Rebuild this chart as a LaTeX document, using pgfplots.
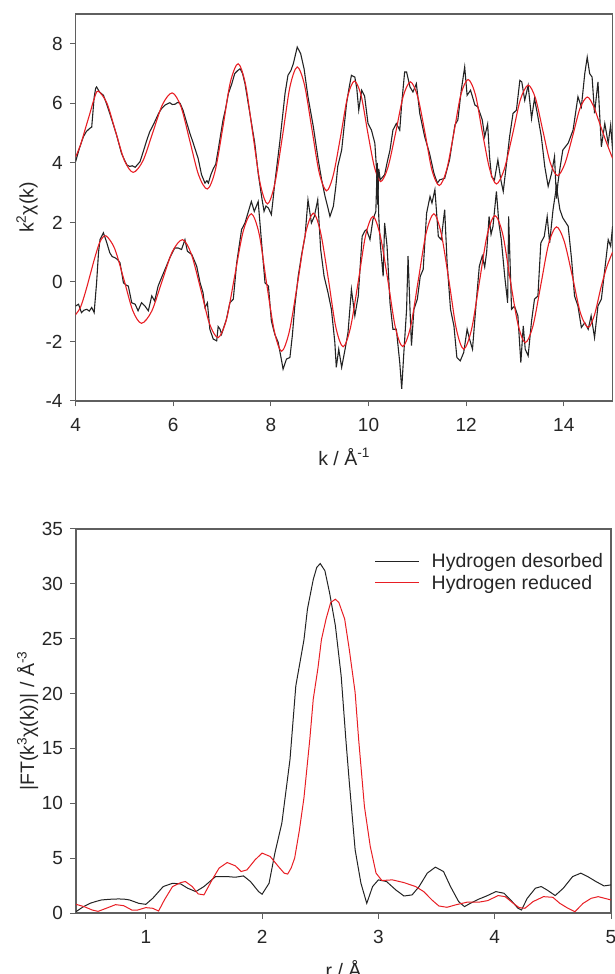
\documentclass[border=0pt]{standalone}
\usepackage{fontspec}
\setmainfont{Liberation Sans}
\usepackage{pgfplots}
\pgfplotsset{compat=1.18}

\definecolor{fitred}{RGB}{232,30,36}
\definecolor{datablack}{RGB}{35,35,35}
\definecolor{axisgray}{RGB}{95,95,95}

\pgfplotsset{
  myaxis/.style={
    scale only axis,
    axis line style={axisgray, line width=1.2pt},
    tick style={axisgray, line width=1pt},
    tick align=outside,
    major tick length=5.5pt,
    tick pos=left,
    ticklabel style={font=\fontsize{19}{22}\selectfont, color=black!85},
    xticklabel style={yshift=-8pt},
    yticklabel style={xshift=-4pt},
    /pgf/number format/assume math mode=true,
    every axis y label/.style={at={(axis description cs:-0.0905,0.5)}, rotate=90, anchor=center,
      font=\fontsize{19.5}{23}\selectfont, color=black!85},
    every axis x label/.style={at={(axis description cs:0.5,-0.145)}, anchor=center,
      font=\fontsize{19.5}{23}\selectfont, color=black!85},
  },
  dataline/.style={datablack, line width=1.1pt},
  fitline/.style={fitred, line width=1.1pt},
}

\begin{document}
\begin{tikzpicture}[x=1pt,y=1pt]
% ---------------- top panel ----------------
\begin{axis}[myaxis, at={(75.6pt,573pt)}, anchor=south west,
  width=537pt, height=387pt,
  xmin=4, xmax=15, ymin=-4, ymax=9,
  xtick={4,6,8,10,12,14}, ytick={-4,-2,0,2,4,6,8},
  xlabel={k / Å\textsuperscript{-1}},
  ylabel={k\textsuperscript{2}χ(k)}]
% upper experimental
\addplot[dataline] coordinates {
(4.00,4.04)(4.08,4.5)(4.16,4.88)(4.22,5.05)(4.29,5.16)(4.33,5.2)(4.38,6.2)(4.41,6.5)(4.43,6.55)(4.49,6.38)
(4.57,6.27)(4.63,6.0)(4.70,5.66)(4.77,5.3)(4.84,4.93)(4.94,4.32)(5.00,4.1)(5.05,3.93)(5.11,3.88)(5.16,3.9)
(5.22,3.85)(5.32,4.04)(5.39,4.4)(5.46,4.77)(5.52,5.05)(5.59,5.27)(5.70,5.66)(5.76,5.82)(5.83,5.94)(5.93,6.02)
(5.98,5.96)(6.04,5.97)(6.09,6.03)(6.14,6.0)(6.20,5.77)(6.27,5.38)(6.34,5.0)(6.41,4.66)(6.51,4.15)(6.58,3.6)
(6.65,3.32)(6.69,3.4)(6.72,3.32)(6.77,3.6)(6.82,3.8)(6.87,3.95)(6.92,4.43)(7.02,5.44)(7.07,5.8)(7.13,6.33)
(7.20,6.66)(7.26,7.0)(7.32,7.1)(7.37,7.16)(7.42,7.0)(7.47,6.66)(7.57,5.66)(7.67,4.66)(7.74,3.65)(7.81,2.87)
(7.86,2.37)(7.90,2.55)(7.95,2.48)(8.01,2.26)(8.04,2.7)(8.08,3.32)(8.18,4.66)(8.29,6.33)(8.35,6.94)(8.41,7.1)
(8.46,7.33)(8.54,7.89)(8.61,7.67)(8.68,7.16)(8.76,6.22)(8.87,5.21)(8.97,4.1)(9.04,3.43)(9.11,2.87)(9.17,2.48)
(9.21,2.2)(9.28,2.54)(9.33,3.2)(9.37,3.88)(9.45,4.43)(9.55,5.99)(9.60,6.5)(9.65,6.94)(9.72,6.88)(9.76,6.5)
(9.80,5.77)(9.86,6.44)(9.92,6.24)(9.99,5.32)(10.06,5.1)(10.13,4.66)(10.16,3.9)(10.19,2.6)(10.21,3.8)(10.24,3.43)
(10.33,3.6)(10.38,4.0)(10.44,4.43)(10.50,5.1)(10.57,5.32)(10.64,5.1)(10.68,5.99)(10.74,7.05)(10.78,7.05)(10.85,6.55)
(10.91,6.38)(10.98,6.66)(11.05,5.66)(11.15,4.88)(11.25,4.32)(11.34,3.65)(11.41,3.32)(11.46,3.43)(11.56,3.48)(11.66,4.1)
(11.77,5.27)(11.83,5.44)(11.90,6.44)(11.97,7.22)(12.02,6.27)(12.09,6.44)(12.18,5.94)(12.24,5.88)(12.33,5.44)(12.38,4.88)
(12.44,5.3)(12.48,4.2)(12.52,3.54)(12.58,3.43)(12.65,4.1)(12.71,3.43)(12.76,3.04)(12.82,3.88)(12.89,4.88)(12.96,5.66)
(13.03,5.77)(13.10,6.77)(13.14,6.72)(13.20,6.1)(13.27,6.6)(13.34,5.49)(13.40,6.16)(13.47,5.55)(13.54,4.88)(13.61,3.88)
(13.68,3.21)(13.75,3.65)(13.81,4.21)(13.85,2.8)(13.88,3.32)(13.92,3.8)(13.98,4.43)(14.09,4.66)(14.19,5.1)(14.29,6.22)
(14.36,5.88)(14.43,7.0)(14.48,7.55)(14.53,7.0)(14.58,6.88)(14.63,5.66)(14.70,6.72)(14.77,4.54)(14.84,5.32)(14.91,4.66)
(14.96,5.27)(15.00,4.43)
};
% upper fit
\addplot[fitline, smooth] coordinates {
(4.0,4.2)(4.1,4.6)(4.2,5.15)(4.3,5.7)(4.38,6.15)(4.46,6.41)(4.64,6.01)(4.82,5.045)(5.0,4.08)(5.18,3.68)
(5.38,4.07)(5.58,5.015)(5.78,5.96)(5.98,6.35)(6.16,5.88)(6.34,4.735)(6.52,3.59)(6.70,3.12)(6.86,3.74)(7.02,5.225)
(7.17,6.71)(7.33,7.33)(7.48,6.64)(7.63,4.975)(7.78,3.31)(7.93,2.62)(8.08,3.29)(8.24,4.92)(8.39,6.55)(8.54,7.22)
(8.69,6.61)(8.84,5.14)(8.99,3.67)(9.14,3.06)(9.28,3.60)(9.43,4.905)(9.57,6.21)(9.71,6.75)(9.85,6.255)(9.98,5.06)
(10.12,3.865)(10.25,3.37)(10.40,3.86)(10.56,5.045)(10.71,6.23)(10.86,6.72)(11.01,6.21)(11.16,4.98)(11.30,3.75)(11.45,3.24)
(11.60,3.76)(11.75,5.02)(11.89,6.28)(12.04,6.80)(12.19,6.29)(12.33,5.045)(12.48,3.80)(12.62,3.29)(12.78,3.78)(12.95,4.95)
(13.11,6.12)(13.27,6.61)(13.42,6.17)(13.57,5.09)(13.72,4.02)(13.87,3.57)(14.02,3.96)(14.18,4.89)(14.33,5.82)(14.48,6.21)
(14.61,5.9)(14.74,5.3)(14.87,4.7)(15.0,4.15)
};
% lower experimental
\addplot[dataline] coordinates {
(4.00,-0.81)(4.06,-0.75)(4.12,-1.03)(4.17,-0.95)(4.23,-0.92)(4.28,-0.98)(4.33,-0.86)(4.38,-1.03)(4.43,-0.03)(4.47,1.0)
(4.50,1.42)(4.57,1.65)(4.64,1.31)(4.70,0.98)(4.75,0.85)(4.81,0.81)(4.86,0.75)(4.91,0.64)(4.98,-0.03)(5.03,-0.1)
(5.08,-0.14)(5.15,-0.7)(5.22,-0.75)(5.28,-0.97)(5.35,-0.7)(5.42,-0.81)(5.49,-0.97)(5.56,-0.47)(5.62,-0.64)(5.69,-0.14)
(5.76,0.14)(5.86,0.53)(5.93,0.81)(6.03,1.14)(6.10,1.14)(6.17,1.09)(6.24,1.42)(6.29,1.03)(6.38,0.92)(6.48,0.53)
(6.55,-0.03)(6.61,-0.36)(6.65,-0.86)(6.70,-0.7)(6.75,-1.59)(6.82,-1.92)(6.89,-1.98)(6.92,-1.5)(6.96,-1.59)(6.99,-1.76)
(7.04,-1.5)(7.09,-1.25)(7.16,-0.7)(7.23,-0.58)(7.30,0.64)(7.33,0.98)(7.40,1.76)(7.47,1.98)(7.54,2.37)(7.60,2.7)
(7.66,2.37)(7.74,2.7)(7.81,1.31)(7.88,-0.03)(7.95,-0.14)(8.01,-1.31)(8.08,-1.76)(8.15,-2.03)(8.22,-2.65)(8.25,-2.93)
(8.32,-2.59)(8.39,-2.54)(8.44,-1.8)(8.49,-0.81)(8.56,0.19)(8.63,0.92)(8.70,1.53)(8.76,2.76)(8.83,1.98)(8.89,2.2)
(8.96,2.76)(9.02,1.09)(9.09,0.19)(9.17,-0.36)(9.24,-0.92)(9.31,-2.03)(9.34,-2.87)(9.39,-2.26)(9.45,-2.87)(9.52,-2.26)
(9.58,-1.7)(9.65,-0.25)(9.72,-1.14)(9.79,-0.47)(9.87,1.53)(9.92,1.7)(9.96,1.76)(10.03,1.42)(10.09,2.09)(10.15,2.37)
(10.18,4.0)(10.21,2.2)(10.24,1.31)(10.30,0.19)(10.33,1.98)(10.38,1.2)(10.44,-0.7)(10.50,-1.59)(10.57,-1.59)(10.64,-2.71)
(10.68,-3.59)(10.72,-2.48)(10.78,-0.92)(10.81,0.87)(10.85,-0.92)(10.88,-2.14)(10.93,-0.92)(11.00,-0.58)(11.06,0.19)(11.12,0.42)
(11.19,2.31)(11.26,2.87)(11.30,2.65)(11.36,3.1)(11.43,1.53)(11.49,1.42)(11.56,2.43)(11.61,0.64)(11.68,-0.92)(11.75,-1.48)
(11.81,-2.54)(11.88,-2.65)(11.95,-2.37)(12.02,-1.59)(12.07,-1.92)(12.13,-2.26)(12.20,-0.81)(12.27,0.53)(12.33,0.87)(12.38,0.5)
(12.42,1.0)(12.47,2.2)(12.51,1.6)(12.55,1.87)(12.62,3.04)(12.67,1.98)(12.72,1.42)(12.79,0.19)(12.85,-0.7)(12.87,2.2)
(12.93,-0.92)(12.99,-0.81)(13.06,-1.14)(13.12,-2.71)(13.17,-1.48)(13.21,-2.26)(13.27,-2.48)(13.34,-1.31)(13.40,-0.58)(13.47,-0.47)
(13.53,1.31)(13.60,1.53)(13.66,2.2)(13.71,1.31)(13.78,2.43)(13.85,3.2)(13.92,2.43)(13.98,2.15)(14.09,1.87)(14.16,0.75)
(14.22,-0.47)(14.29,-0.81)(14.36,-1.53)(14.43,-1.37)(14.50,-1.59)(14.56,-1.14)(14.63,-1.87)(14.70,-0.81)(14.77,-0.58)(14.84,0.42)
(14.91,1.42)(14.96,1.2)(15.00,1.87)
};
% lower fit
\addplot[fitline, smooth] coordinates {
(4.0,-1.1)(4.1,-0.85)(4.2,-0.35)(4.3,0.25)(4.4,0.85)(4.5,1.35)(4.62,1.55)(4.80,1.12)(4.99,0.08)(5.17,-0.96)
(5.35,-1.39)(5.56,-0.98)(5.77,0.02)(5.98,1.01)(6.19,1.42)(6.37,0.94)(6.56,-0.225)(6.74,-1.39)(6.92,-1.87)(7.09,-1.26)
(7.26,0.21)(7.43,1.68)(7.60,2.29)(7.76,1.61)(7.91,-0.02)(8.07,-1.65)(8.22,-2.33)(8.38,-1.65)(8.55,-0.01)(8.71,1.63)
(8.87,2.31)(9.02,1.65)(9.18,0.065)(9.33,-1.52)(9.48,-2.18)(9.63,-1.54)(9.79,0.01)(9.94,1.56)(10.09,2.20)(10.24,1.56)
(10.40,0.015)(10.55,-1.53)(10.70,-2.17)(10.86,-1.52)(11.02,0.06)(11.18,1.64)(11.34,2.29)(11.49,1.62)(11.65,0.015)(11.80,-1.59)
(11.95,-2.26)(12.11,-1.60)(12.27,-0.015)(12.43,1.57)(12.59,2.23)(12.75,1.60)(12.90,0.095)(13.06,-1.41)(13.21,-2.04)(13.37,-1.47)
(13.53,-0.095)(13.69,1.28)(13.85,1.85)(14.01,1.36)(14.18,0.16)(14.34,-1.04)(14.50,-1.53)(14.63,-1.1)(14.76,-0.2)(14.88,0.5)
(15.0,1.0)
};
\end{axis}
% ---------------- bottom panel ----------------
\begin{axis}[myaxis, at={(76pt,61pt)}, anchor=south west,
  width=535pt, height=384pt,
  xmin=0.4, xmax=5, ymin=0, ymax=35,
  xtick={1,2,3,4,5}, ytick={0,5,10,15,20,25,30,35},
  xlabel={r / Å},
  ylabel={|FT(k\textsuperscript{3}χ(k))| / Å\textsuperscript{-3}},
  legend style={draw=none, fill=none, at={(axis description cs:0.558,0.942)}, anchor=north west,
    font=\fontsize{19.5}{23}\selectfont, text=black!85, inner sep=0pt, row sep=2pt},
  legend cell align=left,
  legend image code/.code={\draw[#1] (0pt,0pt) -- (44pt,0pt); \path (54pt,0pt);}]
\addplot[dataline, line width=1pt] coordinates {
(0.40,0.12)(0.46,0.55)(0.52,0.88)(0.57,1.05)(0.62,1.19)(0.69,1.25)(0.76,1.28)(0.81,1.27)(0.86,1.19)(0.94,0.88)
(1.00,0.79)(1.06,1.34)(1.15,2.41)(1.23,2.71)(1.30,2.65)(1.36,2.26)(1.43,1.95)(1.50,2.41)(1.60,3.32)(1.70,3.32)
(1.77,3.26)(1.84,3.38)(1.90,2.87)(1.97,1.95)(2.00,1.71)(2.06,2.71)(2.11,5.46)(2.17,8.2)(2.24,14.0)(2.29,20.7)
(2.36,24.9)(2.39,27.7)(2.44,30.4)(2.47,31.5)(2.50,31.85)(2.54,31.2)(2.58,29.2)(2.63,26.2)(2.68,21.6)(2.72,15.85)
(2.75,11.9)(2.80,5.76)(2.85,2.71)(2.90,0.88)(2.95,2.41)(3.00,3.02)(3.07,2.87)(3.15,2.1)(3.22,1.55)(3.29,1.65)
(3.35,2.41)(3.42,3.63)(3.49,4.18)(3.56,3.78)(3.62,2.41)(3.69,1.04)(3.74,0.58)(3.79,0.88)(3.86,1.25)(3.93,1.55)
(4.01,1.95)(4.08,1.8)(4.15,1.04)(4.20,0.43)(4.23,0.27)(4.28,1.34)(4.35,2.26)(4.40,2.41)(4.45,2.1)(4.52,1.59)
(4.59,2.26)(4.67,3.32)(4.74,3.63)(4.80,3.32)(4.87,2.87)(4.94,2.47)(5.00,2.56)
};
\addlegendentry{Hydrogen desorbed}
\addplot[fitline, line width=1pt] coordinates {
(0.40,0.79)(0.47,0.58)(0.54,0.27)(0.59,0.15)(0.66,0.43)(0.74,0.76)(0.81,0.67)(0.88,0.27)(0.93,0.27)(1.00,0.49)
(1.06,0.43)(1.11,0.18)(1.16,1.19)(1.23,2.41)(1.30,2.77)(1.34,2.87)(1.40,2.41)(1.45,1.74)(1.50,1.65)(1.57,3.02)
(1.63,4.09)(1.70,4.6)(1.77,4.3)(1.82,3.78)(1.87,3.93)(1.94,4.85)(2.00,5.46)(2.07,5.15)(2.14,4.24)(2.19,3.63)
(2.22,3.55)(2.25,4.1)(2.28,5.0)(2.32,7.5)(2.36,10.5)(2.41,15.8)(2.44,19.5)(2.48,22.3)(2.51,24.9)(2.55,26.8)
(2.59,28.3)(2.63,28.6)(2.66,28.3)(2.71,26.8)(2.75,24.0)(2.80,20.1)(2.83,15.85)(2.88,9.7)(2.93,6.07)(2.98,3.63)
(3.03,2.96)(3.12,3.02)(3.22,2.77)(3.32,2.41)(3.39,1.95)(3.46,1.19)(3.52,0.64)(3.59,0.52)(3.66,0.73)(3.76,0.98)
(3.86,0.98)(3.94,1.13)(4.03,1.59)(4.09,1.49)(4.16,0.88)(4.21,0.49)(4.26,0.43)(4.33,1.04)(4.42,1.49)(4.50,1.43)
(4.56,0.88)(4.63,0.43)(4.69,0.12)(4.76,0.88)(4.83,1.34)(4.89,1.49)(5.00,1.19)
};
\addlegendentry{Hydrogen reduced}
\end{axis}
\pgfresetboundingbox
\useasboundingbox (0pt,0pt) rectangle (614pt,974pt);
\end{tikzpicture}
\end{document}
